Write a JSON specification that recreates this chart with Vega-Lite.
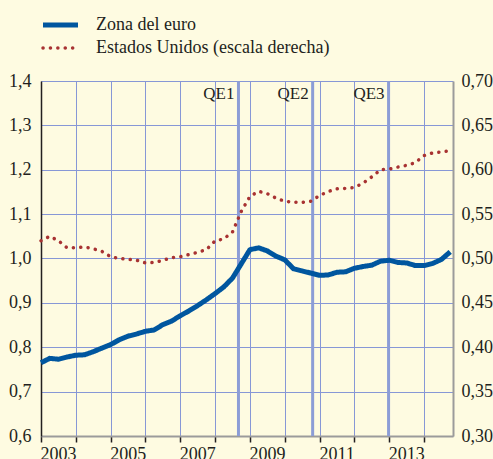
{
  "$schema": "https://vega.github.io/schema/vega-lite/v6.json",
  "width": 412,
  "height": 355,
  "autosize": {"type": "none"},
  "padding": {"left": 41, "top": 81, "right": 40, "bottom": 23},
  "background": "#fefbe1",
  "config": {
    "view": {"stroke": null},
    "axis": {"labelFont": "Liberation Serif", "labelFontSize": 18, "labelColor": "#231f20", "title": null},
    "axisX": {
      "values": [2003, 2004, 2005, 2006, 2007, 2008, 2009, 2010, 2011, 2012, 2013, 2014],
      "format": "d",
      "labelExpr": "datum.value % 2 === 1 ? datum.label : ''",
      "labelOffset": 17, "labelFlush": false, "labelOverlap": false,
      "labelPadding": 3,
      "grid": true, "gridColor": "#8797d6", "gridWidth": 1,
      "domainColor": "#9b9b9b", "domainWidth": 2,
      "ticks": true, "tickColor": "#231f20", "tickWidth": 1.5, "tickSize": 6
    },
    "axisLeft": {
      "values": [0.6, 0.7, 0.8, 0.9, 1.0, 1.1, 1.2, 1.3, 1.4],
      "labelExpr": "replace(format(datum.value, '.1f'), '.', ',')",
      "grid": true, "gridColor": "#8797d6", "gridWidth": 1,
      "domainColor": "#231f20", "domainWidth": 1.5,
      "ticks": false, "labelPadding": 10
    },
    "axisRight": {
      "values": [0.3, 0.35, 0.4, 0.45, 0.5, 0.55, 0.6, 0.65, 0.7],
      "labelExpr": "replace(format(datum.value, '.2f'), '.', ',')",
      "grid": false,
      "domainColor": "#9b9b9b", "domainWidth": 2,
      "ticks": false, "labelPadding": 8
    },
    "legend": {
      "orient": "none", "legendX": 10.5, "legendY": -65,
      "symbolType": "M-3.5,0H3.5", "symbolSize": 100, "symbolStrokeWidth": 4.5,
      "labelFont": "Liberation Serif", "labelFontSize": 18, "labelColor": "#231f20",
      "labelOffset": 26.5, "rowPadding": 4, "padding": 0, "labelLimit": 400
    }
  },
  "datasets": {
    "euro": [
      {"t": 2003.00, "v": 0.765, "series": "Zona del euro"},
      {"t": 2003.25, "v": 0.775, "series": "Zona del euro"},
      {"t": 2003.50, "v": 0.773, "series": "Zona del euro"},
      {"t": 2003.75, "v": 0.778, "series": "Zona del euro"},
      {"t": 2004.00, "v": 0.782, "series": "Zona del euro"},
      {"t": 2004.25, "v": 0.783, "series": "Zona del euro"},
      {"t": 2004.50, "v": 0.790, "series": "Zona del euro"},
      {"t": 2004.75, "v": 0.798, "series": "Zona del euro"},
      {"t": 2005.00, "v": 0.806, "series": "Zona del euro"},
      {"t": 2005.25, "v": 0.817, "series": "Zona del euro"},
      {"t": 2005.50, "v": 0.825, "series": "Zona del euro"},
      {"t": 2005.75, "v": 0.830, "series": "Zona del euro"},
      {"t": 2006.00, "v": 0.836, "series": "Zona del euro"},
      {"t": 2006.25, "v": 0.839, "series": "Zona del euro"},
      {"t": 2006.50, "v": 0.851, "series": "Zona del euro"},
      {"t": 2006.75, "v": 0.859, "series": "Zona del euro"},
      {"t": 2007.00, "v": 0.871, "series": "Zona del euro"},
      {"t": 2007.25, "v": 0.882, "series": "Zona del euro"},
      {"t": 2007.50, "v": 0.894, "series": "Zona del euro"},
      {"t": 2007.75, "v": 0.907, "series": "Zona del euro"},
      {"t": 2008.00, "v": 0.921, "series": "Zona del euro"},
      {"t": 2008.25, "v": 0.936, "series": "Zona del euro"},
      {"t": 2008.50, "v": 0.956, "series": "Zona del euro"},
      {"t": 2008.75, "v": 0.988, "series": "Zona del euro"},
      {"t": 2009.00, "v": 1.020, "series": "Zona del euro"},
      {"t": 2009.25, "v": 1.024, "series": "Zona del euro"},
      {"t": 2009.50, "v": 1.017, "series": "Zona del euro"},
      {"t": 2009.75, "v": 1.005, "series": "Zona del euro"},
      {"t": 2010.00, "v": 0.997, "series": "Zona del euro"},
      {"t": 2010.25, "v": 0.977, "series": "Zona del euro"},
      {"t": 2010.50, "v": 0.972, "series": "Zona del euro"},
      {"t": 2010.75, "v": 0.967, "series": "Zona del euro"},
      {"t": 2011.00, "v": 0.962, "series": "Zona del euro"},
      {"t": 2011.25, "v": 0.963, "series": "Zona del euro"},
      {"t": 2011.50, "v": 0.969, "series": "Zona del euro"},
      {"t": 2011.75, "v": 0.970, "series": "Zona del euro"},
      {"t": 2012.00, "v": 0.978, "series": "Zona del euro"},
      {"t": 2012.25, "v": 0.982, "series": "Zona del euro"},
      {"t": 2012.50, "v": 0.985, "series": "Zona del euro"},
      {"t": 2012.75, "v": 0.994, "series": "Zona del euro"},
      {"t": 2013.00, "v": 0.996, "series": "Zona del euro"},
      {"t": 2013.25, "v": 0.991, "series": "Zona del euro"},
      {"t": 2013.50, "v": 0.990, "series": "Zona del euro"},
      {"t": 2013.75, "v": 0.984, "series": "Zona del euro"},
      {"t": 2014.00, "v": 0.984, "series": "Zona del euro"},
      {"t": 2014.25, "v": 0.989, "series": "Zona del euro"},
      {"t": 2014.50, "v": 0.998, "series": "Zona del euro"},
      {"t": 2014.75, "v": 1.015, "series": "Zona del euro"}
    ],
    "us": [
      {"t": 2003.00, "v": 0.520, "series": "Estados Unidos (escala derecha)"},
      {"t": 2003.25, "v": 0.525, "series": "Estados Unidos (escala derecha)"},
      {"t": 2003.50, "v": 0.520, "series": "Estados Unidos (escala derecha)"},
      {"t": 2003.75, "v": 0.512, "series": "Estados Unidos (escala derecha)"},
      {"t": 2004.00, "v": 0.512, "series": "Estados Unidos (escala derecha)"},
      {"t": 2004.25, "v": 0.513, "series": "Estados Unidos (escala derecha)"},
      {"t": 2004.50, "v": 0.511, "series": "Estados Unidos (escala derecha)"},
      {"t": 2004.75, "v": 0.508, "series": "Estados Unidos (escala derecha)"},
      {"t": 2005.00, "v": 0.502, "series": "Estados Unidos (escala derecha)"},
      {"t": 2005.25, "v": 0.500, "series": "Estados Unidos (escala derecha)"},
      {"t": 2005.50, "v": 0.499, "series": "Estados Unidos (escala derecha)"},
      {"t": 2005.75, "v": 0.498, "series": "Estados Unidos (escala derecha)"},
      {"t": 2006.00, "v": 0.495, "series": "Estados Unidos (escala derecha)"},
      {"t": 2006.25, "v": 0.4955, "series": "Estados Unidos (escala derecha)"},
      {"t": 2006.50, "v": 0.498, "series": "Estados Unidos (escala derecha)"},
      {"t": 2006.75, "v": 0.501, "series": "Estados Unidos (escala derecha)"},
      {"t": 2007.00, "v": 0.502, "series": "Estados Unidos (escala derecha)"},
      {"t": 2007.25, "v": 0.5045, "series": "Estados Unidos (escala derecha)"},
      {"t": 2007.50, "v": 0.507, "series": "Estados Unidos (escala derecha)"},
      {"t": 2007.75, "v": 0.510, "series": "Estados Unidos (escala derecha)"},
      {"t": 2008.00, "v": 0.520, "series": "Estados Unidos (escala derecha)"},
      {"t": 2008.25, "v": 0.522, "series": "Estados Unidos (escala derecha)"},
      {"t": 2008.50, "v": 0.530, "series": "Estados Unidos (escala derecha)"},
      {"t": 2008.75, "v": 0.553, "series": "Estados Unidos (escala derecha)"},
      {"t": 2009.00, "v": 0.570, "series": "Estados Unidos (escala derecha)"},
      {"t": 2009.25, "v": 0.5757, "series": "Estados Unidos (escala derecha)"},
      {"t": 2009.50, "v": 0.573, "series": "Estados Unidos (escala derecha)"},
      {"t": 2009.75, "v": 0.568, "series": "Estados Unidos (escala derecha)"},
      {"t": 2010.00, "v": 0.5645, "series": "Estados Unidos (escala derecha)"},
      {"t": 2010.25, "v": 0.5635, "series": "Estados Unidos (escala derecha)"},
      {"t": 2010.50, "v": 0.5633, "series": "Estados Unidos (escala derecha)"},
      {"t": 2010.75, "v": 0.5645, "series": "Estados Unidos (escala derecha)"},
      {"t": 2011.00, "v": 0.571, "series": "Estados Unidos (escala derecha)"},
      {"t": 2011.25, "v": 0.5755, "series": "Estados Unidos (escala derecha)"},
      {"t": 2011.50, "v": 0.5785, "series": "Estados Unidos (escala derecha)"},
      {"t": 2011.75, "v": 0.579, "series": "Estados Unidos (escala derecha)"},
      {"t": 2012.00, "v": 0.580, "series": "Estados Unidos (escala derecha)"},
      {"t": 2012.25, "v": 0.585, "series": "Estados Unidos (escala derecha)"},
      {"t": 2012.50, "v": 0.592, "series": "Estados Unidos (escala derecha)"},
      {"t": 2012.75, "v": 0.600, "series": "Estados Unidos (escala derecha)"},
      {"t": 2013.00, "v": 0.6008, "series": "Estados Unidos (escala derecha)"},
      {"t": 2013.25, "v": 0.603, "series": "Estados Unidos (escala derecha)"},
      {"t": 2013.50, "v": 0.605, "series": "Estados Unidos (escala derecha)"},
      {"t": 2013.75, "v": 0.608, "series": "Estados Unidos (escala derecha)"},
      {"t": 2014.00, "v": 0.616, "series": "Estados Unidos (escala derecha)"},
      {"t": 2014.25, "v": 0.619, "series": "Estados Unidos (escala derecha)"},
      {"t": 2014.50, "v": 0.620, "series": "Estados Unidos (escala derecha)"},
      {"t": 2014.75, "v": 0.6215, "series": "Estados Unidos (escala derecha)"}
    ],
    "qe": [
      {"qe": "QE1", "t": 2008.67},
      {"qe": "QE2", "t": 2010.80},
      {"qe": "QE3", "t": 2012.98}
    ]
  },
  "layer": [
    {
      "layer": [
        {
          "data": {"name": "qe"},
          "mark": {"type": "rule", "color": "#8c9dd6", "strokeWidth": 3},
          "encoding": {
            "x": {"field": "t", "type": "quantitative", "scale": {"domain": [2003, 2014.83], "nice": false, "zero": false}, "axis": {"title": null}}
          }
        },
        {
          "data": {"name": "qe"},
          "mark": {"type": "text", "align": "right", "baseline": "alphabetic", "dx": -4, "dy": 17.5, "fontSize": 17, "color": "#231f20", "font": "Liberation Serif"},
          "encoding": {
            "x": {"field": "t", "type": "quantitative", "scale": {"domain": [2003, 2014.83], "nice": false, "zero": false}, "axis": {"title": null}},
            "y": {"datum": 1.4, "type": "quantitative", "scale": {"domain": [0.6, 1.4], "nice": false, "zero": false}, "axis": {"orient": "left", "title": null}},
            "text": {"field": "qe"}
          }
        },
        {
          "data": {"name": "euro"},
          "mark": {"type": "line", "strokeWidth": 5, "strokeJoin": "round", "strokeCap": "butt"},
          "encoding": {
            "x": {"field": "t", "type": "quantitative", "scale": {"domain": [2003, 2014.83], "nice": false, "zero": false}, "axis": {"title": null}},
            "y": {"field": "v", "type": "quantitative", "scale": {"domain": [0.6, 1.4], "nice": false, "zero": false}, "axis": {"orient": "left", "title": null}},
            "color": {
              "field": "series", "type": "nominal",
              "scale": {"domain": ["Zona del euro", "Estados Unidos (escala derecha)"], "range": ["#00569f", "#a83232"]},
              "legend": {"title": null, "encode": {"symbols": {"update": {
                "strokeCap": {"signal": "datum.value === 'Zona del euro' ? 'butt' : 'round'"},
                "strokeWidth": {"signal": "datum.value === 'Zona del euro' ? 5 : 3.5"}
              }}}}
            },
            "strokeDash": {
              "field": "series", "type": "nominal",
              "scale": {"domain": ["Zona del euro", "Estados Unidos (escala derecha)"], "range": [[1, 0], [0.1, 7.3]]},
              "legend": {"title": null, "encode": {"symbols": {"update": {
                "strokeCap": {"signal": "datum.value === 'Zona del euro' ? 'butt' : 'round'"},
                "strokeWidth": {"signal": "datum.value === 'Zona del euro' ? 5 : 3.5"}
              }}}}
            }
          }
        }
      ]
    },
    {
      "data": {"name": "us"},
      "mark": {"type": "line", "strokeWidth": 3.5, "strokeCap": "round", "strokeJoin": "round"},
      "encoding": {
        "x": {"field": "t", "type": "quantitative", "scale": {"domain": [2003, 2014.83], "nice": false, "zero": false}, "axis": {"title": null}},
        "y": {"field": "v", "type": "quantitative", "scale": {"domain": [0.3, 0.7], "nice": false, "zero": false}, "axis": {"orient": "right", "title": null}},
        "color": {
          "field": "series", "type": "nominal",
          "scale": {"domain": ["Zona del euro", "Estados Unidos (escala derecha)"], "range": ["#00569f", "#a83232"]},
          "legend": {"title": null, "encode": {"symbols": {"update": {
            "strokeCap": {"signal": "datum.value === 'Zona del euro' ? 'butt' : 'round'"},
            "strokeWidth": {"signal": "datum.value === 'Zona del euro' ? 5 : 3.5"}
          }}}}
        },
        "strokeDash": {
          "field": "series", "type": "nominal",
          "scale": {"domain": ["Zona del euro", "Estados Unidos (escala derecha)"], "range": [[1, 0], [0.1, 7.3]]},
          "legend": {"title": null, "encode": {"symbols": {"update": {
            "strokeCap": {"signal": "datum.value === 'Zona del euro' ? 'butt' : 'round'"},
            "strokeWidth": {"signal": "datum.value === 'Zona del euro' ? 5 : 3.5"}
          }}}}
        }
      }
    }
  ],
  "resolve": {"scale": {"y": "independent"}}
}
